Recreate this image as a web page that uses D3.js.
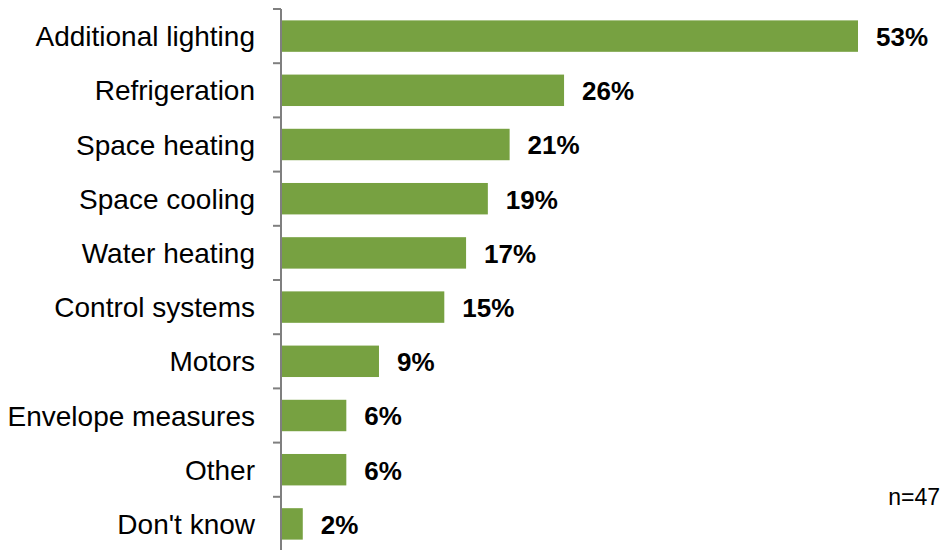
<!DOCTYPE html>
<html>
<head>
<meta charset="utf-8">
<script src="https://cdn.jsdelivr.net/npm/d3@7"></script>
<style>
  html, body { margin: 0; padding: 0; background: #ffffff; }
  svg { display: block; }
</style>
</head>
<body>
<svg id="chart" width="946" height="550"></svg>
<script>
// Measures installed, share of respondents (%)
const categories = [
  "Additional lighting", "Refrigeration", "Space heating", "Space cooling",
  "Water heating", "Control systems", "Motors", "Envelope measures",
  "Other", "Don't know"
];
const values = [53, 26, 21, 19, 17, 15, 9, 6, 6, 2];
const sampleNote = "n=47";

const svg = d3.select("#chart");
const font = "'Liberation Sans', Arial, sans-serif";

const x = d3.scaleLinear().domain([0, 53]).range([281, 858]);
const y = d3.scaleBand().domain(categories).range([9, 551]).paddingInner(0.42).paddingOuter(0.21);

// Bars
svg.append("g")
  .selectAll("rect")
  .data(values)
  .join("rect")
  .attr("x", x(0))
  .attr("y", (d, i) => y(categories[i]))
  .attr("width", d => x(d) - x(0))
  .attr("height", y.bandwidth())
  .attr("fill", "#77a141");

// Category axis with ticks between bands
const axisG = svg.append("g").attr("transform", `translate(${x(0)},0)`);
const step = y.step();
const bounds = d3.range(categories.length + 1).map(i => 9 + i * step);
axisG.append("line")
  .attr("x1", 0).attr("x2", 0)
  .attr("y1", 9).attr("y2", 551)
  .attr("stroke", "#7f7f7f").attr("stroke-width", 2);
axisG.selectAll("line.tick")
  .data(bounds)
  .join("line")
  .attr("class", "tick")
  .attr("x1", -8).attr("x2", 0)
  .attr("y1", d => d).attr("y2", d => d)
  .attr("stroke", "#7f7f7f").attr("stroke-width", 2);

// Category labels
svg.append("g")
  .selectAll("text")
  .data(categories)
  .join("text")
  .attr("x", 255)
  .attr("y", d => y(d) + y.bandwidth() / 2)
  .attr("dy", "0.36em")
  .attr("text-anchor", "end")
  .attr("font-family", font)
  .attr("font-size", 28)
  .attr("fill", "#000")
  .text(d => d);

// Value labels
svg.append("g")
  .selectAll("text")
  .data(values)
  .join("text")
  .attr("x", d => x(d) + 18)
  .attr("y", (d, i) => y(categories[i]) + y.bandwidth() / 2)
  .attr("dy", "0.38em")
  .attr("font-family", font)
  .attr("font-size", 26)
  .attr("font-weight", "bold")
  .attr("fill", "#000")
  .text(d => d + "%");

// Sample size
svg.append("text")
  .attr("x", 940)
  .attr("y", 505)
  .attr("text-anchor", "end")
  .attr("font-family", font)
  .attr("font-size", 23)
  .attr("fill", "#000")
  .text(sampleNote);
</script>
</body>
</html>
